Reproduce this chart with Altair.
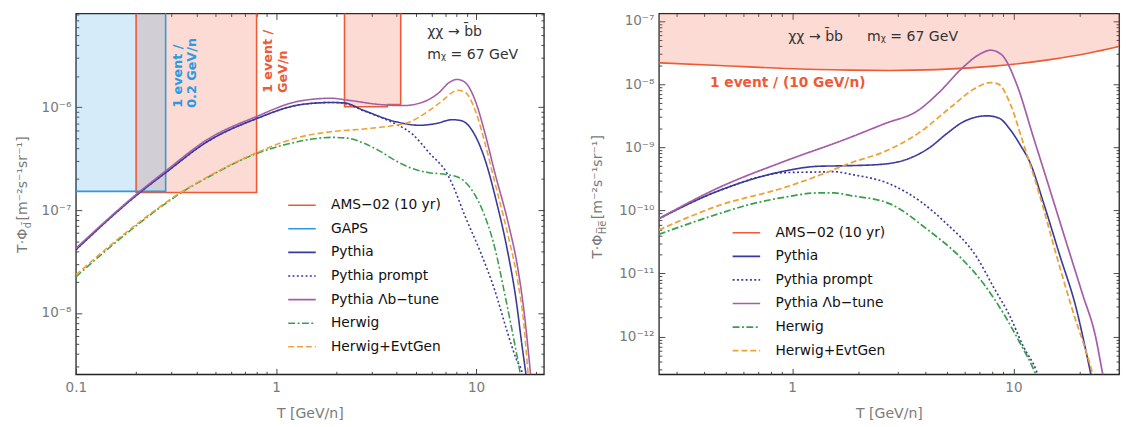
import altair as alt
import pandas as pd

# ---------------- series names ----------------
AMS = "AMS−02 (10 yr)"
GAPS = "GAPS"
PY = "Pythia"
PYP = "Pythia prompt"
LB = "Pythia Λb−tune"
HW = "Herwig"
EG = "Herwig+EvtGen"

C_AMS, C_GAPS, C_PY, C_LB, C_HW, C_EG = "#ee5a35", "#2b9ae3", "#393a9b", "#a45ea9", "#3a9f4c", "#eea235"

# ---------------- left panel: anti-deuteron flux ----------------
L_T_py = [0.1, 0.214, 0.281, 0.454, 0.798, 1.294, 1.517, 1.886, 2.19, 2.75, 4.01, 5.21, 6.30, 7.61, 8.51, 9.53, 11.08, 12.66, 14.26, 15.86, 16.98, 17.74, 18.5]
L_F_py = [4.12e-8, 1.54e-7, 2.31e-7, 4.63e-7, 7.73e-7, 1.05e-6, 1.09e-6, 1.11e-6, 1.10e-6, 9.28e-7, 7.19e-7, 6.67e-7, 6.93e-7, 7.56e-7, 7.35e-7, 5.98e-7, 3.09e-7, 1.19e-7, 4.27e-8, 1.32e-8, 4.73e-9, 2.54e-9, 1.3e-9]

L_T_pyp = [0.1, 0.214, 0.281, 0.454, 0.798, 1.294, 1.517, 1.886, 2.19, 2.75, 3.32, 4.01, 4.84, 5.83, 7.21, 7.62, 8.84, 10.48, 12.41, 14.22, 15.9, 17.06, 17.8]
L_F_pyp = [4.12e-8, 1.54e-7, 2.31e-7, 4.63e-7, 7.73e-7, 1.05e-6, 1.09e-6, 1.11e-6, 1.09e-6, 9.2e-7, 8.0e-7, 6.8e-7, 5.4e-7, 3.6e-7, 2.21e-7, 1.77e-7, 8.57e-8, 3.97e-8, 1.65e-8, 6.84e-9, 3.53e-9, 2.54e-9, 1.5e-9]

L_T_lb = [0.1, 0.214, 0.281, 0.454, 0.798, 1.294, 1.886, 2.28, 3.32, 4.32, 5.42, 6.54, 7.32, 8.05, 8.84, 9.9, 11.08, 12.4, 14.42, 16.14, 17.41, 18.7, 19.5]
L_F_lb = [4.25e-8, 1.58e-7, 2.4e-7, 4.85e-7, 8.1e-7, 1.14e-6, 1.22e-6, 1.17e-6, 1.06e-6, 1.036e-6, 1.12e-6, 1.39e-6, 1.73e-6, 1.86e-6, 1.73e-6, 1.156e-6, 5.56e-7, 2.31e-7, 7.68e-8, 2.75e-8, 9.87e-9, 2.54e-9, 1.0e-9]

L_T_hw = [0.1, 0.214, 0.348, 0.454, 0.798, 1.294, 1.517, 1.886, 2.28, 2.75, 3.32, 4.01, 4.84, 5.83, 7.05, 8.2, 9.18, 10.68, 12.41, 13.9, 15.56, 16.63, 17.3]
L_F_hw = [2.25e-8, 7.8e-8, 1.54e-7, 2.07e-7, 3.54e-7, 4.63e-7, 4.9e-7, 5.09e-7, 5.0e-7, 4.46e-7, 3.72e-7, 2.98e-7, 2.52e-7, 2.31e-7, 2.22e-7, 2.07e-7, 1.72e-7, 1.03e-7, 4.27e-8, 1.53e-8, 5.1e-9, 2.54e-9, 1.5e-9]

L_T_eg = [0.1, 0.214, 0.348, 0.454, 0.798, 1.294, 1.886, 2.75, 3.86, 4.66, 5.83, 6.79, 7.61, 8.07, 8.84, 9.9, 11.08, 12.41, 14.42, 16.14, 17.3, 18.2, 18.8]
L_F_eg = [2.35e-8, 8.0e-8, 1.56e-7, 2.1e-7, 3.6e-7, 5.09e-7, 5.77e-7, 6.14e-7, 6.63e-7, 7.19e-7, 9.28e-7, 1.156e-6, 1.39e-6, 1.46e-6, 1.39e-6, 9.28e-7, 4.46e-7, 1.85e-7, 5.73e-8, 2.05e-8, 8.0e-9, 2.54e-9, 1.3e-9]

# AMS-02 sensitivity bins (left) and GAPS
L_ams_lo = [0.2, 2.2, 3.6]
L_ams_hi = [0.8, 3.6, 4.2]
L_ams_F = [1.48e-7, 1.01e-6, 1.06e-6]
L_gaps_lo = [0.05]
L_gaps_hi = [0.281]
L_gaps_F = [1.52e-7]

# ---------------- right panel: anti-helium flux ----------------
R_T_ams = [0.25, 0.468, 0.927, 1.84, 2.77, 4.5, 8.14, 14.6, 22.0, 30.0]
R_F_ams = [2.18e-8, 1.98e-8, 1.77e-8, 1.67e-8, 1.65e-8, 1.7e-8, 1.93e-8, 2.45e-8, 3.12e-8, 3.95e-8]

R_T_py = [0.25, 0.468, 0.927, 1.306, 1.75, 2.5, 3.5, 4.2, 5.0, 5.9, 6.9, 7.6, 8.6, 9.67, 10.8, 11.9, 13.6, 16.15, 19.15, 22.3, 24.0]
R_F_py = [7.4e-11, 2.06e-10, 4.21e-10, 5.0e-10, 5.1e-10, 5.35e-10, 7.0e-10, 1.0e-9, 1.65e-9, 2.5e-9, 3.05e-9, 3.15e-9, 2.9e-9, 1.9e-9, 1.05e-9, 5.67e-10, 1.4e-10, 2.0e-11, 2.94e-12, 2.7e-13, 8e-14]

R_T_pyp = [0.25, 0.468, 0.927, 1.306, 1.55, 1.84, 2.77, 3.84, 4.88, 6.86, 8.14, 9.67, 11.08, 12.7, 13.5]
R_F_pyp = [7.4e-11, 2.06e-10, 3.96e-10, 4.06e-10, 4.11e-10, 3.73e-10, 2.61e-10, 1.35e-10, 6.6e-11, 1.77e-11, 6.03e-12, 2.06e-12, 7.0e-13, 2.86e-13, 1.5e-13]

R_T_lb = [0.25, 0.468, 0.927, 1.75, 2.63, 3.71, 4.63, 5.85, 6.98, 7.9, 8.84, 10.34, 12.28, 14.58, 17.28, 20.5, 23.5, 25.3, 27.0]
R_F_lb = [7.4e-11, 2.31e-10, 6.03e-10, 1.35e-9, 2.38e-9, 3.84e-9, 7.5e-9, 1.78e-8, 2.93e-8, 3.45e-8, 2.93e-8, 1.0e-8, 1.48e-9, 2.18e-10, 3.22e-11, 4.76e-12, 1.0e-12, 2.6e-13, 9e-14]

R_T_hw = [0.25, 0.468, 0.658, 0.927, 1.306, 1.55, 1.84, 2.77, 4.11, 5.79, 7.35, 9.02, 10.71, 12.5, 13.3]
R_F_hw = [4.18e-11, 8.89e-11, 1.27e-10, 1.62e-10, 1.89e-10, 1.89e-10, 1.72e-10, 1.27e-10, 4.9e-11, 1.77e-11, 6.8e-12, 2.32e-12, 7.93e-13, 2.7e-13, 1.5e-13]

R_T_eg = [0.25, 0.468, 0.927, 1.306, 1.84, 2.63, 3.71, 5.22, 6.63, 7.87, 8.57, 9.67, 11.08, 13.15, 15.6, 18.5, 22.7, 24.5]
R_F_eg = [4.9e-11, 1.2e-10, 2.31e-10, 3.52e-10, 5.67e-10, 8.63e-10, 1.66e-9, 4.34e-9, 8.36e-9, 1.06e-8, 1.0e-8, 4.88e-9, 1.16e-9, 1.72e-10, 2.0e-11, 2.61e-12, 2.7e-13, 9e-14]

# ---------------- axis ranges / ticks ----------------
L_xdom = [0.1, 21.8]
L_ydom = [2.54e-9, 8.13e-6]
R_xdom = [0.25, 30.0]
R_ydom = [2.53e-13, 1.318e-7]
L_xmajor = [0.1, 1, 10]
L_ymajor = [1e-8, 1e-7, 1e-6]
R_xmajor = [1, 10]
R_ymajor = [1e-12, 1e-11, 1e-10, 1e-9, 1e-8, 1e-7]

W_L, W_R, H = 476, 468, 367
FONT = "DejaVu Sans"
TOP = 1e-3  # boxes extend beyond the top of the plot

SUP = {"-": "⁻", "0": "⁰", "1": "¹", "2": "²", "3": "³", "4": "⁴", "5": "⁵", "6": "⁶", "7": "⁷", "8": "⁸", "9": "⁹"}


def sup(n):
    return "".join(SUP[c] for c in str(n))


def log_ticks(lo, hi):
    out = []
    for e in range(-16, 4):
        for k in range(1, 10):
            v = float(f"{k}e{e}")
            if lo <= v <= hi:
                out.append(v)
    return out


def pow_label_expr(majors):
    import math
    expr = ""
    for v in reversed(majors):
        e = round(math.log10(v))
        if v == majors[-1]:
            expr = f"'10{sup(e)}'"
        else:
            expr = f"datum.value < {v * 3.1623:.4g} ? '10{sup(e)}' : {expr}"
    return expr


MAJOR_TEST = "abs(log(datum.value)/LN10 - round(log(datum.value)/LN10)) < 0.001"
TICKSIZE = {"condition": {"test": MAJOR_TEST, "value": 6}, "value": 3}


def tick_axis(orient, offset, values):
    return alt.Axis(orient=orient, offset=offset, values=values, labels=False, domain=False,
                    grid=False, ticks=True, tickSize=TICKSIZE, tickColor="#333",
                    tickWidth=0.9, title=None)


def curves_df(items):
    rows = []
    for name, ts, fs in items:
        for t, f in zip(ts, fs):
            rows.append({"series": name, "T": t, "F": f})
    return pd.DataFrame(rows)


def outline_df(lo, hi, F):
    rows, box, i = [], 0, 0
    for k in range(len(lo)):
        if k == 0 or lo[k] != hi[k - 1]:
            if k > 0:
                rows.append({"box": box, "i": i, "T": hi[k - 1], "F": TOP}); i += 1
                box += 1
            rows.append({"box": box, "i": i, "T": lo[k], "F": TOP}); i += 1
        rows.append({"box": box, "i": i, "T": lo[k], "F": F[k]}); i += 1
        rows.append({"box": box, "i": i, "T": hi[k], "F": F[k]}); i += 1
    rows.append({"box": box, "i": i, "T": hi[-1], "F": TOP})
    return pd.DataFrame(rows)


def ytitle_layers(sub, y0, xbase, sub_w):
    col = "#7a7a7a"
    d = pd.DataFrame({"a": [0]})
    a = alt.Chart(d).mark_text(text="T·Φ", angle=270, align="right", baseline="alphabetic",
                               fontSize=14.3, color=col).encode(x=alt.value(xbase), y=alt.value(y0))
    b = alt.Chart(d).mark_text(text=sub, angle=270, align="left", baseline="alphabetic",
                               fontSize=10, color=col).encode(x=alt.value(xbase + 4), y=alt.value(y0 - 0.5))
    c = alt.Chart(d).mark_text(text=" [m⁻²s⁻¹sr⁻¹]", angle=270, align="left", baseline="alphabetic",
                               fontSize=14.3, color=col).encode(x=alt.value(xbase), y=alt.value(y0 - sub_w - 2))
    return [a, b, c]


def panel(W, xdom, ydom, xmajor, ymajor, curves, series_domain, colors, dashes, widths,
          legend_xy, pre_layers_fn, texts, ytitle):
    xs = alt.Scale(type="log", domain=xdom, nice=False)
    ys = alt.Scale(type="log", domain=ydom, nice=False)
    xt = log_ticks(*xdom)
    yt = log_ticks(*ydom)
    ax_x_in_bottom = tick_axis("top", -H, xt)
    ax_x_in_top = tick_axis("bottom", -H, xt)
    ax_y_in_left = tick_axis("right", -W, yt)
    ax_y_in_right = tick_axis("left", -W, yt)
    ax_x_lab = alt.Axis(orient="bottom", values=xmajor, format="~g", ticks=False, tickSize=0,
                        domain=False, grid=False, labelPadding=6.5, labelFontSize=13.8, labelFlush=False,
                        labelColor="#7a7a7a", labelFont=FONT, title="T [GeV/n]", titleFontSize=14.3,
                        titleColor="#7a7a7a", titleFontWeight="normal", titleFont=FONT, titlePadding=13)
    ax_y_lab = alt.Axis(orient="left", values=ymajor, labelExpr=pow_label_expr(ymajor), ticks=False,
                        tickSize=0, domain=False, grid=False, labelPadding=5, labelFontSize=13.8,
                        labelFlush=False, labelColor="#7a7a7a", labelFont=FONT, title=None)
    tick_axes = [(ax_x_in_bottom, ax_y_in_left), (ax_x_in_top, ax_y_in_right)]
    layers = pre_layers_fn(xs, ys, tick_axes)

    leg = alt.Legend(orient="none", legendX=legend_xy[0], legendY=legend_xy[1], title=None,
                     symbolType="M-1.4,0H1.4", symbolSize=400, labelFontSize=14, labelFont=FONT,
                     labelColor="#111", labelOffset=18.5, rowPadding=6, padding=0, labelLimit=400)
    lines = alt.Chart(curves).mark_line(clip=True, interpolate="monotone").encode(
        x=alt.X("T:Q", scale=xs, axis=ax_x_lab),
        y=alt.Y("F:Q", scale=ys, axis=ax_y_lab),
        color=alt.Color("series:N", scale=alt.Scale(domain=series_domain, range=colors), legend=leg),
        strokeDash=alt.StrokeDash("series:N", scale=alt.Scale(domain=series_domain, range=dashes), legend=leg),
        strokeWidth=alt.StrokeWidth("series:N", scale=alt.Scale(domain=series_domain, range=widths), legend=leg),
    )
    layers.append(lines)
    for t in texts:
        d = pd.DataFrame({"T": [t["T"]], "F": [t["F"]]})
        props = {k: v for k, v in t.items() if k not in ("T", "F")}
        layers.append(alt.Chart(d).mark_text(font=FONT, **props).encode(
            x=alt.X("T:Q", scale=xs, axis=None), y=alt.Y("F:Q", scale=ys, axis=None)))
    layers += ytitle
    return alt.layer(*layers).resolve_axis(x="independent", y="independent").properties(width=W, height=H)


# ---------------- left panel layers ----------------
def left_pre(xs, ys, tick_axes):
    ams_rect = pd.DataFrame({"lo": L_ams_lo, "hi": L_ams_hi, "F": L_ams_F, "top": [TOP] * len(L_ams_lo)})
    gaps_rect = pd.DataFrame({"lo": L_gaps_lo, "hi": L_gaps_hi, "F": L_gaps_F, "top": [TOP]})
    (ax1, ay1), (ax2, ay2) = tick_axes
    ams_fill = alt.Chart(ams_rect).mark_rect(color=C_AMS, opacity=0.22, clip=True).encode(
        x=alt.X("lo:Q", scale=xs, axis=ax1), x2="hi", y=alt.Y("F:Q", scale=ys, axis=ay1), y2="top")
    gaps_fill = alt.Chart(gaps_rect).mark_rect(color=C_GAPS, opacity=0.2, clip=True).encode(
        x=alt.X("lo:Q", scale=xs, axis=ax2), x2="hi", y=alt.Y("F:Q", scale=ys, axis=ay2), y2="top")
    ams_line = alt.Chart(outline_df(L_ams_lo, L_ams_hi, L_ams_F)).mark_line(
        color=C_AMS, strokeWidth=1.6, clip=True).encode(
        x=alt.X("T:Q", scale=xs, axis=None), y=alt.Y("F:Q", scale=ys, axis=None),
        detail="box:N", order="i:Q")
    gaps_line = alt.Chart(gaps_rect).mark_rect(fillOpacity=0, stroke=C_GAPS, strokeWidth=1.6, clip=True).encode(
        x=alt.X("lo:Q", scale=xs, axis=None), x2="hi", y=alt.Y("F:Q", scale=ys, axis=None), y2="top")
    return [ams_fill, gaps_fill, ams_line, gaps_line]


def right_pre(xs, ys, tick_axes):
    d = pd.DataFrame({"T": R_T_ams, "F": R_F_ams, "top": [TOP] * len(R_T_ams)})
    (ax1, ay1), (ax2, ay2) = tick_axes
    band = alt.Chart(d).mark_area(color=C_AMS, opacity=0.22, clip=True, interpolate="monotone").encode(
        x=alt.X("T:Q", scale=xs, axis=ax1), y=alt.Y("F:Q", scale=ys, axis=ay1), y2="top")
    edge = alt.Chart(d).mark_line(color=C_AMS, strokeWidth=1.6, clip=True, interpolate="monotone").encode(
        x=alt.X("T:Q", scale=xs, axis=ax2), y=alt.Y("F:Q", scale=ys, axis=ay2))
    return [band, edge]


L_curves = curves_df([(PY, L_T_py, L_F_py), (PYP, L_T_pyp, L_F_pyp), (LB, L_T_lb, L_F_lb),
                      (HW, L_T_hw, L_F_hw), (EG, L_T_eg, L_F_eg)])
R_curves = curves_df([(PY, R_T_py, R_F_py), (PYP, R_T_pyp, R_F_pyp), (LB, R_T_lb, R_F_lb),
                      (HW, R_T_hw, R_F_hw), (EG, R_T_eg, R_F_eg)])

DOT, DASHDOT, DASH, SOLID = [2, 2.4], [7, 2.5, 2, 2.5], [6, 3], [1, 0]

L_texts = [
    dict(T=5.7, F=5.39e-6, text="χχ  →  b̄b", align="left", baseline="middle", fontSize=14.3, color="#333"),
    dict(T=5.7, F=3.23e-6, text="mᵪ = 67 GeV", align="left", baseline="middle", fontSize=14.3, color="#333"),
    dict(T=0.303, F=9.85e-7, text=["1 event /", "0.2 GeV/n"], angle=270, align="left", baseline="top",
         lineHeight=14.4, fontSize=13, fontWeight="bold", color=C_GAPS),
    dict(T=0.849, F=1.37e-6, text=["1 event /", "GeV/n"], angle=270, align="left", baseline="top",
         lineHeight=15.5, fontSize=13, fontWeight="bold", color=C_AMS),
]
R_texts = [
    dict(T=0.96, F=5.59e-8, text="χχ  →  b̄b", align="left", baseline="middle", fontSize=14.3, color="#333"),
    dict(T=2.18, F=5.59e-8, text="mᵪ = 67 GeV", align="left", baseline="middle", fontSize=14.3, color="#333"),
    dict(T=0.955, F=1.04e-8, text="1 event / (10 GeV/n)", align="center", baseline="middle", fontSize=14,
         fontWeight="bold", color=C_AMS),
]

left = panel(
    W_L, L_xdom, L_ydom, L_xmajor, L_ymajor, L_curves,
    [AMS, GAPS, PY, PYP, LB, HW, EG],
    [C_AMS, C_GAPS, C_PY, C_PY, C_LB, C_HW, C_EG],
    [SOLID, SOLID, SOLID, DOT, SOLID, DASHDOT, DASH],
    [1.6, 1.6, 1.8, 2.0, 3.2, 1.8, 1.8],
    (219, 184), left_pre, L_texts,
    ytitle_layers("d̄", 219, -50, 6.4),
)
right = panel(
    W_R, R_xdom, R_ydom, R_xmajor, R_ymajor, R_curves,
    [AMS, PY, PYP, LB, HW, EG],
    [C_AMS, C_PY, C_PY, C_LB, C_HW, C_EG],
    [SOLID, SOLID, DOT, SOLID, DASHDOT, DASH],
    [1.6, 1.8, 2.0, 3.2, 1.8, 1.8],
    (78, 212), right_pre, R_texts,
    ytitle_layers("H̅e̅", 225, -58, 13.7),
)

chart = alt.hconcat(left, right, spacing=45).resolve_scale(
    color="independent", strokeDash="independent", strokeWidth="independent"
).resolve_legend(
    color="independent", strokeDash="independent", strokeWidth="independent"
).properties(
    padding={"left": 7, "top": 0, "right": 0, "bottom": 0}
).configure(font=FONT).configure_view(stroke="#222", strokeWidth=1.3)

chart.save("out.html", embed_options={"renderer": "svg", "actions": False})
